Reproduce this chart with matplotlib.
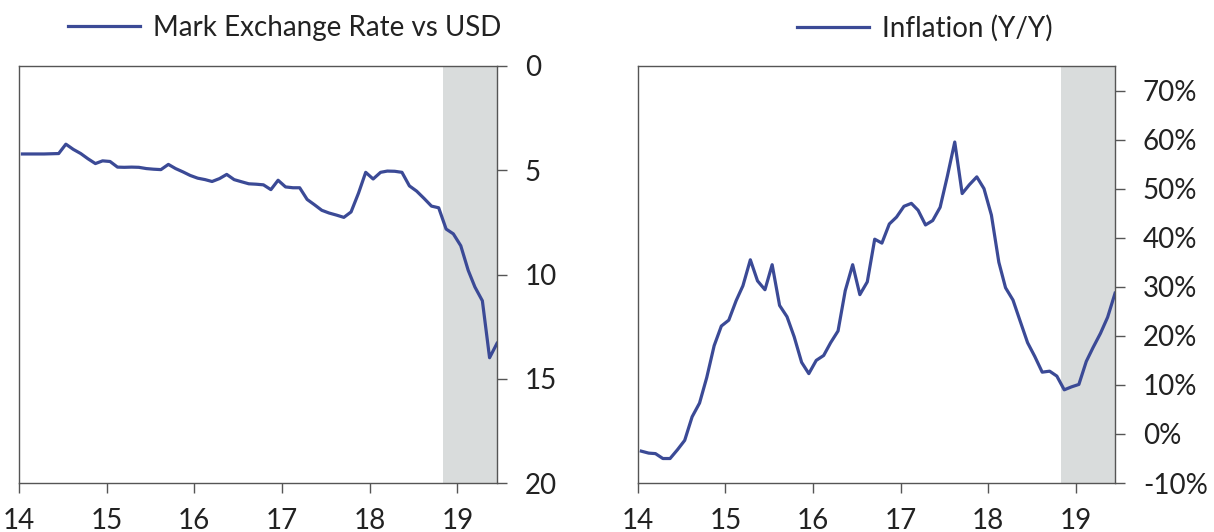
import numpy as np
import pandas as pd
import matplotlib
matplotlib.use("Agg")
import matplotlib.pyplot as plt
import matplotlib.dates as mdates

plt.rcParams['font.family'] = ['Lato', 'DejaVu Sans']

# monthly observations, Jan 2014 - Jun 2019 (plotted mid-month)
dates = pd.date_range('2014-01-01', periods=66, freq='MS') + pd.Timedelta(days=14)

mark_usd = [4.22, 4.22, 4.22, 4.22, 4.21, 4.20, 3.75, 4.00, 4.20, 4.45, 4.68, 4.55,
            4.58, 4.85, 4.86, 4.85, 4.86, 4.92, 4.95, 4.97, 4.72, 4.92, 5.08, 5.25,
            5.38, 5.45, 5.54, 5.40, 5.20, 5.45, 5.55, 5.65, 5.67, 5.70, 5.93, 5.48,
            5.80, 5.84, 5.84, 6.40, 6.65, 6.92, 7.05, 7.15, 7.26, 7.00, 6.10, 5.10,
            5.42, 5.10, 5.04, 5.05, 5.10, 5.75, 6.00, 6.35, 6.72, 6.80, 7.82, 8.05,
            8.62, 9.80, 10.60, 11.26, 13.99, 13.30]

inflation = [-3.5, -3.9, -4.0, -5.0, -5.0, -3.2, -1.3, 3.5, 6.3, 11.5, 18.0, 22.0,
             23.2, 27.2, 30.2, 35.5, 31.2, 29.4, 34.5, 26.2, 23.9, 19.8, 14.6, 12.3,
             15.0, 16.0, 18.6, 21.0, 29.2, 34.5, 28.4, 31.0, 39.7, 38.9, 42.8, 44.2,
             46.4, 47.0, 45.6, 42.6, 43.5, 46.2, 52.5, 59.5, 49.0, 50.8, 52.4, 50.0,
             44.6, 35.0, 29.8, 27.3, 23.0, 18.6, 15.8, 12.6, 12.8, 11.8, 9.0, 9.6,
             10.1, 14.8, 17.6, 20.5, 23.8, 28.7]

shade_start = pd.Timestamp('2018-11-01')
x_start = pd.Timestamp('2014-01-01')
x_end = dates[-1]

line_color = '#3b4a96'
shade_color = '#d9dcdc'
spine_color = '#555555'
text_color = '#222222'

fig = plt.figure(figsize=(12.14, 5.32), dpi=100)
ax1 = fig.add_axes([0.0157, 0.092, 0.3937, 0.784])
ax2 = fig.add_axes([0.5255, 0.092, 0.393, 0.784])


def style(ax):
    ax.axvspan(shade_start, x_end, color=shade_color, lw=0, zorder=0)
    ax.set_xlim(x_start, x_end)
    ax.xaxis.set_major_locator(mdates.YearLocator())
    ax.xaxis.set_major_formatter(mdates.DateFormatter('%y'))
    ax.yaxis.tick_right()
    ax.tick_params(axis='both', direction='out', length=7, width=1,
                   color=spine_color, labelcolor=text_color, labelsize=20)
    ax.tick_params(axis='y', pad=13)
    ax.tick_params(axis='x', pad=11)
    for s in ax.spines.values():
        s.set_color(spine_color)
        s.set_linewidth(1)


ax1.plot(dates, mark_usd, color=line_color, lw=2.3, label='Mark Exchange Rate vs USD')
style(ax1)
ax1.set_ylim(20, 0)
ax1.set_yticks([0, 5, 10, 15, 20])

ax2.plot(dates, inflation, color=line_color, lw=2.3, label='Inflation (Y/Y)')
style(ax2)
ax2.set_ylim(-10, 75)
ax2.set_yticks(np.arange(-10, 71, 10))
ax2.set_yticklabels([f'{v}%' for v in range(-10, 71, 10)])

for ax, cx in [(ax1, 0.2344), (ax2, 0.762)]:
    leg = ax.legend(loc='center', bbox_to_anchor=(cx, 0.947), bbox_transform=fig.transFigure,
                    frameon=False, fontsize=20, handlelength=2.6, handletextpad=0.47,
                    labelcolor=text_color)

fig.savefig('out.png', dpi=100)
